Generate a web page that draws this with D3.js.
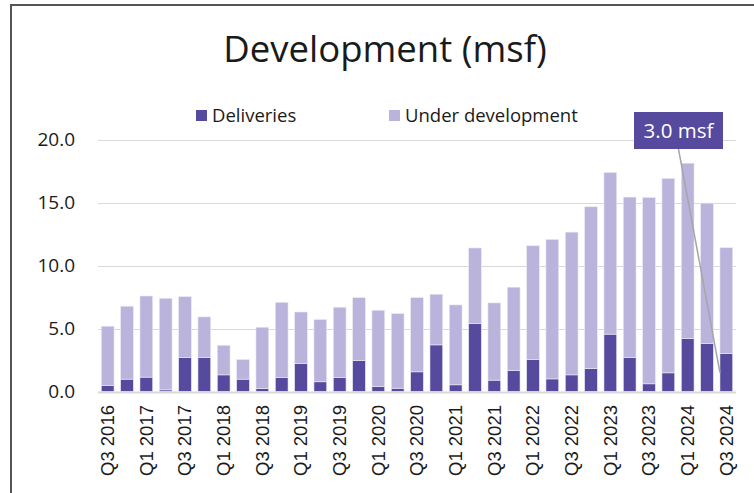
<!DOCTYPE html>
<html>
<head>
<meta charset="utf-8">
<script src="https://cdn.jsdelivr.net/npm/d3@7"></script>
<style>
  body { margin: 0; background: #fff; }
  text { font-family: "Open Sans", sans-serif; fill: #1a1a1a; }
</style>
</head>
<body>
<script>
var quarters = ["Q3 2016","Q4 2016","Q1 2017","Q2 2017","Q3 2017","Q4 2017","Q1 2018","Q2 2018",
  "Q3 2018","Q4 2018","Q1 2019","Q2 2019","Q3 2019","Q4 2019","Q1 2020","Q2 2020",
  "Q3 2020","Q4 2020","Q1 2021","Q2 2021","Q3 2021","Q4 2021","Q1 2022","Q2 2022",
  "Q3 2022","Q4 2022","Q1 2023","Q2 2023","Q3 2023","Q4 2023","Q1 2024","Q2 2024","Q3 2024"];

var deliveries = [0.48, 0.98, 1.14, 0.13, 2.70, 2.70, 1.32, 0.98, 0.24, 1.11, 2.22, 0.77, 1.11, 2.46, 0.40, 0.26,
  1.56, 3.70, 0.53, 5.39, 0.90, 1.65, 2.54, 1.00, 1.32, 1.82, 4.55, 2.70, 0.61, 1.48, 4.20, 3.80, 3.00];

var underDevelopment = [4.70, 5.79, 6.44, 7.27, 4.83, 3.22, 2.35, 1.56, 4.86, 5.97, 4.09, 4.94, 5.58, 4.99, 6.05, 5.92,
  5.89, 4.02, 6.34, 6.00, 6.13, 6.63, 9.03, 11.07, 11.33, 12.84, 12.83, 12.73, 14.79, 15.43, 13.92, 11.15, 8.41];

var yTicks = [0, 5, 10, 15, 20];
var seriesNames = ["Deliveries", "Under development"];
var annotationText = "3.0 msf";

var colors = { "Deliveries": "#564a9e", "Under development": "#bab3dc" };

var W = 754, H = 493;
var plot = { left: 98, right: 736, top: 139.5, bottom: 391.5 };

var svg = d3.select("body").append("svg")
    .attr("width", W)
    .attr("height", H);

// outer frame (only top and left edges are visible in the crop)
svg.append("line").attr("x1", 11).attr("x2", W).attr("y1", 5).attr("y2", 5)
    .attr("stroke", "#555").attr("stroke-width", 2);
svg.append("line").attr("x1", 11).attr("x2", 11).attr("y1", 4).attr("y2", H)
    .attr("stroke", "#555").attr("stroke-width", 2);

svg.append("text")
    .attr("x", 385)
    .attr("y", 62)
    .attr("text-anchor", "middle")
    .style("font-size", "36.5px")
    .text("Development (msf)");

var x = d3.scaleBand()
    .domain(quarters)
    .range([plot.left, plot.right])
    .paddingInner(0.34)
    .paddingOuter(0.17);

var y = d3.scaleLinear()
    .domain([0, 20])
    .range([plot.bottom, plot.top]);

// gridlines
svg.selectAll(".grid")
    .data(yTicks.slice(1))
  .enter().append("line")
    .attr("class", "grid")
    .attr("x1", plot.left)
    .attr("x2", plot.right)
    .attr("y1", function(d) { return Math.round(y(d)) + 0.5; })
    .attr("y2", function(d) { return Math.round(y(d)) + 0.5; })
    .attr("stroke", "#d9d9d9")
    .attr("stroke-width", 1);

// y labels
svg.selectAll(".ylab")
    .data(yTicks)
  .enter().append("text")
    .attr("class", "ylab")
    .attr("x", 75)
    .attr("y", function(d) { return y(d); })
    .attr("dy", "0.35em")
    .attr("text-anchor", "end")
    .style("font-size", "19px")
    .text(function(d) { return d3.format(".1f")(d); });

var table = quarters.map(function(q, i) {
  return { quarter: q, "Deliveries": deliveries[i], "Under development": underDevelopment[i] };
});

var stacked = d3.stack().keys(seriesNames)(table);

svg.selectAll(".series")
    .data(stacked)
  .enter().append("g")
    .attr("class", "series")
    .attr("fill", function(d) { return colors[d.key]; })
  .selectAll("rect")
    .data(function(d) { return d; })
  .enter().append("rect")
    .attr("x", function(d) { return x(d.data.quarter); })
    .attr("width", x.bandwidth())
    .attr("y", function(d) { return y(d[1]); })
    .attr("height", function(d) { return y(d[0]) - y(d[1]); })
    .attr("stroke", "#ebe9f5")
    .attr("stroke-width", 0.6);

// baseline
svg.append("line")
    .attr("x1", plot.left)
    .attr("x2", plot.right)
    .attr("y1", y(0) + 1)
    .attr("y2", y(0) + 1)
    .attr("stroke", "#d9d9d9")
    .attr("stroke-width", 2);

// x labels, every other quarter
svg.selectAll(".xlab")
    .data(quarters.filter(function(d, i) { return i % 2 === 0; }))
  .enter().append("text")
    .attr("class", "xlab")
    .attr("transform", function(d) {
      return "translate(" + (x(d) + x.bandwidth() / 2) + ",405) rotate(-90)";
    })
    .attr("dy", "0.35em")
    .attr("text-anchor", "end")
    .style("font-family", "'Liberation Sans', Arial, sans-serif")
    .style("font-size", "18.5px")
    .text(function(d) { return d; });

// legend
var legend = svg.selectAll(".legend")
    .data(seriesNames)
  .enter().append("g")
    .attr("class", "legend")
    .attr("transform", function(d, i) { return "translate(" + (i === 0 ? 196 : 389) + ",110)"; });

legend.append("rect")
    .attr("width", 11)
    .attr("height", 11)
    .attr("fill", function(d) { return colors[d]; });

legend.append("text")
    .attr("x", 16)
    .attr("y", 6)
    .attr("dy", "0.35em")
    .style("font-size", "18.5px")
    .text(function(d) { return d; });

// annotation for last quarter deliveries
var last = quarters.length - 1;
var box = { x: 634, y: 112, w: 89, h: 37 };

svg.append("line")
    .attr("x1", box.x + box.w / 2)
    .attr("y1", box.y + box.h)
    .attr("x2", x(quarters[last]))
    .attr("y2", y(deliveries[last] / 2))
    .attr("stroke", "#a6a6a6")
    .attr("stroke-width", 1.5);

svg.append("rect")
    .attr("x", box.x)
    .attr("y", box.y)
    .attr("width", box.w)
    .attr("height", box.h)
    .attr("fill", colors["Deliveries"]);

svg.append("text")
    .attr("x", box.x + box.w / 2)
    .attr("y", box.y + box.h / 2)
    .attr("dy", "0.35em")
    .attr("text-anchor", "middle")
    .style("font-size", "20.5px")
    .style("fill", "#fff")
    .text(annotationText);
</script>
</body>
</html>
